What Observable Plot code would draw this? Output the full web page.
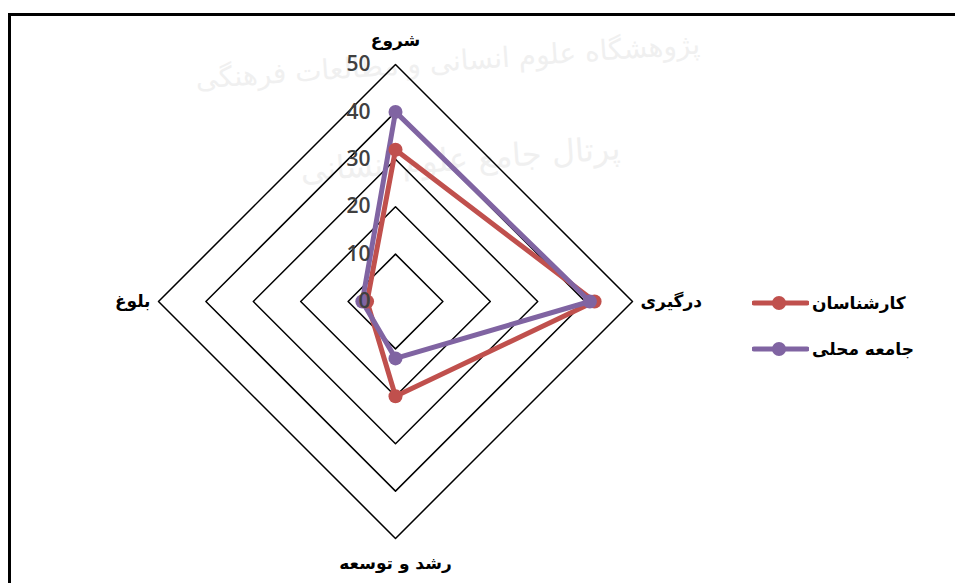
<!DOCTYPE html>
<html>
<head>
<meta charset="utf-8">
<script src="https://cdn.jsdelivr.net/npm/d3@7"></script>
<script src="https://cdn.jsdelivr.net/npm/@observablehq/plot@0.6"></script>
<style>
  html, body { margin: 0; padding: 0; background: #fff; }
  #wrap { position: relative; width: 955px; height: 583px; overflow: hidden; }
  #frame { position: absolute; left: 8px; top: 13px; width: 2000px; height: 2000px; border-left: 3px solid #000; border-top: 3px solid #000; }
  .wm { position: absolute; color: #f0f0f0; font-family: "DejaVu Sans", sans-serif; white-space: nowrap; direction: rtl; }
  #chart { position: absolute; left: 0; top: 0; }
  #legend { position: absolute; left: 752px; top: 288px; font-family: "DejaVu Sans", sans-serif; font-weight: bold; font-size: 17px; color: #000; }
  .item { display: flex; align-items: center; height: 30px; margin-bottom: 16px; }
  .item span { margin-left: 3px; direction: rtl; }
</style>
</head>
<body>
<div id="wrap">
  <div id="frame"></div>
  <div class="wm" style="left:195px; top:45px; font-size:28px; transform: rotate(-4deg);">پژوهشگاه علوم انسانی و مطالعات فرهنگی</div>
  <div class="wm" style="left:300px; top:140px; font-size:32px; transform: rotate(-4deg);">پرتال جامع علوم انسانی</div>
  <div id="chart"></div>
  <div id="legend"></div>
</div>
<script>
const axes = ["شروع", "درگیری", "رشد و توسعه", "بلوغ"];
const angles = [0, 90, 180, 270];
const seriesNames = ["کارشناسان", "جامعه محلی"];
const experts = [32, 42, 20, 6];
const community = [40, 41, 12, 7];
const ticks = [0, 10, 20, 30, 40, 50];
const colors = ["#C0504D", "#8064A2"];

const W = 955, H = 583, cx = 395, cy = 301, k = 4.74;
const rad = d => d * Math.PI / 180;
const px = (v, a) => v * Math.sin(rad(a));
const py = (v, a) => v * Math.cos(rad(a));

const rings = ticks.filter(t => t > 0).flatMap(t => angles.map(a => ({ring: t, x: px(t, a), y: py(t, a)})));
const seriesValues = [experts, community];
const pts = seriesNames.flatMap((s, i) => axes.map((ax, j) => ({series: s, x: px(seriesValues[i][j], angles[j]), y: py(seriesValues[i][j], angles[j])})));
const maxV = d3.max(ticks);
const labels = axes.map((ax, j) => ({label: ax, a: angles[j], x: px(maxV, angles[j]), y: py(maxV, angles[j])}));

const labelStyle = {x: "x", y: "y", text: "label", fontSize: 17, fontWeight: "bold", fill: "#000", fontFamily: "DejaVu Sans, sans-serif"};

const plot = Plot.plot({
  width: W, height: H, margin: 0,
  style: {background: "transparent", overflow: "visible"},
  x: {domain: [-cx / k, (W - cx) / k], range: [0, W], axis: null},
  y: {domain: [-(H - cy) / k, cy / k], range: [H, 0], axis: null},
  color: {domain: seriesNames, range: colors},
  marks: [
    Plot.line(rings, {x: "x", y: "y", z: "ring", curve: "linear-closed", stroke: "#000", strokeWidth: 1.5}),
    Plot.line(pts, {x: "x", y: "y", z: "series", stroke: "series", curve: "linear-closed", strokeWidth: 5, strokeLinejoin: "round"}),
    Plot.dot(pts, {x: "x", y: "y", fill: "series", r: 7}),
    Plot.text(ticks, {x: 0, y: d => d, text: d => String(d), textAnchor: "end", dx: -25, fontSize: 21, fontWeight: 600, fill: "#404040", fontFamily: "Open Sans, sans-serif"}),
    Plot.text(labels.filter(d => d.a === 0), {...labelStyle, textAnchor: "middle", dy: -24}),
    Plot.text(labels.filter(d => d.a === 90), {...labelStyle, textAnchor: "start", dx: 8}),
    Plot.text(labels.filter(d => d.a === 180), {...labelStyle, textAnchor: "middle", dy: 25}),
    Plot.text(labels.filter(d => d.a === 270), {...labelStyle, textAnchor: "end", dx: -8})
  ]
});
document.getElementById("chart").appendChild(plot);

const legend = document.getElementById("legend");
seriesNames.forEach((s, i) => {
  const div = document.createElement("div");
  div.className = "item";
  div.innerHTML = `<svg width="57" height="30"><line x1="2" x2="55" y1="15" y2="15" stroke="${colors[i]}" stroke-width="5" stroke-linecap="round"/><circle cx="27" cy="15" r="7" fill="${colors[i]}"/></svg><span>${s}</span>`;
  legend.appendChild(div);
});
</script>
</body>
</html>
